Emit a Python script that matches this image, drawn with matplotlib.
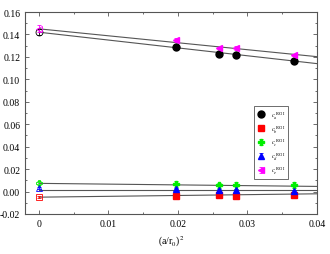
import matplotlib
matplotlib.use("Agg")
import matplotlib.pyplot as plt
import numpy as np
from matplotlib.ticker import MultipleLocator, FuncFormatter

plt.rcParams['font.family'] = ['Liberation Serif', 'DejaVu Serif']
plt.rcParams['mathtext.fontset'] = 'stix'

x = [0.0197, 0.0259, 0.0284, 0.0367]
series_names = ['a', 'b', 'c', 'd', 'e']
ca = [0.1285, 0.1230, 0.1220, 0.1160]
cb = [-0.0040, -0.0030, -0.0043, -0.0028]
cc = [0.0067, 0.0055, 0.0055, 0.0058]
cd = [0.0022, 0.0013, 0.0013, 0.0007]
ce = [0.1350, 0.1280, 0.1280, 0.1220]
err_a = [0.0015, 0.0015, 0.0025, 0.0020]
err_b = [0.0010, 0.0010, 0.0010, 0.0015]
err_c = [0.0025, 0.0020, 0.0030, 0.0025]
err_d = [0.0010, 0.0010, 0.0010, 0.0010]
err_e = [0.0015, 0.0010, 0.0020, 0.0010]

# continuum extrapolations (x = 0) and fit slopes
extrap = [0.1420, -0.0050, 0.0075, 0.0030, 0.1450]
extrap_err = [0.0025, 0.0010, 0.0020, 0.0010, 0.0030]
fit_intercept = [0.1420, -0.0050, 0.0073, 0.0016, 0.1450]
fit_slope = [-0.70, 0.075, -0.068, 0.0, -0.62]

values = [ca, cb, cc, cd, ce]
errs = [err_a, err_b, err_c, err_d, err_e]
colors = ['black', 'red', '#00ee00', 'blue', '#ff00ff']
markers = ['o', 's', 'P', '^', '<']
sizes = [5, 4.5, 5, 5, 5]

fig = plt.figure(figsize=(3.30, 2.55), dpi=100)
ax = fig.add_axes([25/330, 1-215/255, 292/330, 202/255])

xl = np.array([0.0, 0.04])
for b, m in zip(fit_intercept, fit_slope):
    ax.plot(xl, b + m*xl, color='#555555', lw=0.8, zorder=1)

for i in range(5):
    lbl = r'$c_{%s}^{\;\;\mathrm{RGI}}$' % series_names[i]
    ax.errorbar(x, values[i], yerr=errs[i], fmt=markers[i], color=colors[i],
                ms=sizes[i], elinewidth=0.6, capsize=1.5, capthick=0.6,
                label=lbl, zorder=3)
    ax.errorbar([0.0], [extrap[i]], yerr=[extrap_err[i]], fmt=markers[i],
                mfc='none', mec=colors[i], color=colors[i], ms=sizes[i],
                mew=0.6, elinewidth=0.6, capsize=1.5, capthick=0.6, zorder=3)

ax.set_xlim(-0.002, 0.04)
ax.set_ylim(-0.02, 0.16)
ax.xaxis.set_major_locator(MultipleLocator(0.01))
ax.xaxis.set_minor_locator(MultipleLocator(0.005))
ax.yaxis.set_major_locator(MultipleLocator(0.02))
ax.yaxis.set_minor_locator(MultipleLocator(0.01))
ax.xaxis.set_major_formatter(FuncFormatter(lambda v, p: '0' if abs(v) < 1e-9 else '%g' % v))
ax.yaxis.set_major_formatter(FuncFormatter(lambda v, p: '%.2f' % v))
ax.tick_params(which='both', direction='in', top=True, right=True, labelsize=7,
               width=0.6, color='#555555')
ax.tick_params(which='major', length=3)
ax.tick_params(which='minor', length=1.5)
for s in ax.spines.values():
    s.set_linewidth(0.8)
    s.set_color('#555555')
ax.set_xlabel(r'(a/r$_0$)$^2$', fontsize=7, labelpad=4)

leg = ax.legend(loc='upper left', bbox_to_anchor=(229/292, 1-94/202), fontsize=4.5,
                frameon=True, fancybox=False, edgecolor='#555555', framealpha=1,
                borderpad=0.5, labelspacing=0.4, handletextpad=1.0, handlelength=1.2,
                borderaxespad=0)
leg.get_frame().set_linewidth(0.6)

fig.savefig('out.png', dpi=100)
